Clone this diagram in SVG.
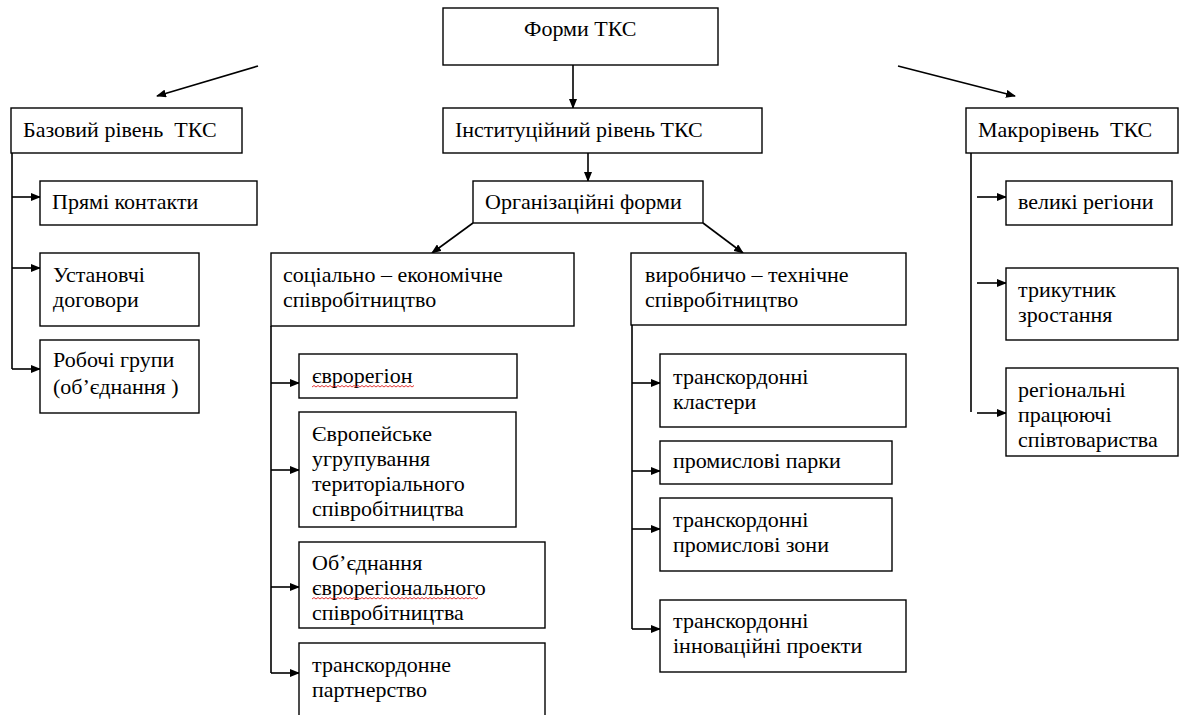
<svg xmlns="http://www.w3.org/2000/svg" width="1179" height="715" viewBox="0 0 1179 715">
<defs>
<marker id="ah" markerUnits="userSpaceOnUse" markerWidth="10" markerHeight="8" refX="9" refY="4" orient="auto">
<path d="M0,0 L10,4 L0,8 Z" fill="#000"/>
</marker>
</defs>
<rect width="1179" height="715" fill="#fff"/>

<g id="connectors" stroke="#000" stroke-width="1.6" fill="none">
<line marker-end="url(#ah)" x1="573" y1="65" x2="573" y2="108"/>
<line marker-end="url(#ah)" x1="588" y1="153" x2="588" y2="181"/>
<line marker-end="url(#ah)" x1="258" y1="66" x2="157" y2="96"/>
<line marker-end="url(#ah)" x1="898" y1="66" x2="1015" y2="96"/>
<line marker-end="url(#ah)" x1="473" y1="223" x2="432" y2="253"/>
<line marker-end="url(#ah)" x1="703" y1="223" x2="743" y2="253"/>
<polyline points="12,153 12,369"/>
<line marker-end="url(#ah)" x1="12" y1="197" x2="40" y2="197"/>
<line marker-end="url(#ah)" x1="12" y1="268" x2="40" y2="268"/>
<line marker-end="url(#ah)" x1="12" y1="369" x2="40" y2="369"/>
<polyline points="271,326 271,673"/>
<line marker-end="url(#ah)" x1="271" y1="383" x2="299" y2="383"/>
<line marker-end="url(#ah)" x1="271" y1="470" x2="299" y2="470"/>
<line marker-end="url(#ah)" x1="271" y1="587" x2="299" y2="587"/>
<line marker-end="url(#ah)" x1="271" y1="673" x2="299" y2="673"/>
<polyline points="632,325 632,629"/>
<line marker-end="url(#ah)" x1="632" y1="383" x2="660" y2="383"/>
<line marker-end="url(#ah)" x1="632" y1="471" x2="660" y2="471"/>
<line marker-end="url(#ah)" x1="632" y1="529" x2="660" y2="529"/>
<line marker-end="url(#ah)" x1="632" y1="629" x2="660" y2="629"/>
<polyline points="971,153 971,412"/>
<line marker-end="url(#ah)" x1="977" y1="197" x2="1006" y2="197"/>
<line marker-end="url(#ah)" x1="977" y1="283" x2="1006" y2="283"/>
<line marker-end="url(#ah)" x1="977" y1="413" x2="1006" y2="413"/>
</g>

<g id="nodes" font-size="22" fill="#000">
<g id="forms"><rect fill="#fff" stroke="#000" stroke-width="1.4" x="443" y="8" width="275" height="57"/><text font-family="Liberation Serif" x="524" y="36">Форми ТКС</text></g>
<g id="inst"><rect fill="#fff" stroke="#000" stroke-width="1.4" x="443" y="108" width="319" height="45"/><text font-family="Liberation Serif" x="455" y="137">Інституційний рівень ТКС</text></g>
<g id="org"><rect fill="#fff" stroke="#000" stroke-width="1.4" x="473" y="181" width="230" height="42"/><text font-family="Liberation Serif" x="485" y="209">Організаційні форми</text></g>
<g id="base"><rect fill="#fff" stroke="#000" stroke-width="1.4" x="11" y="108" width="231" height="45"/><text font-family="Liberation Serif" x="23" y="137" xml:space="preserve">Базовий рівень  ТКС</text></g>
<g id="direct"><rect fill="#fff" stroke="#000" stroke-width="1.4" x="40" y="181" width="217" height="44"/><text font-family="Liberation Serif" x="52" y="209">Прямі контакти</text></g>
<g id="founding"><rect fill="#fff" stroke="#000" stroke-width="1.4" x="40" y="253" width="159" height="73"/><text font-family="Liberation Serif" x="53" y="282">Установчі</text><text font-family="Liberation Serif" x="53" y="307">договори</text></g>
<g id="workgroups"><rect fill="#fff" stroke="#000" stroke-width="1.4" x="40" y="340" width="159" height="73"/><text font-family="Liberation Serif" x="53" y="367">Робочі групи</text><text font-family="Liberation Serif" x="53" y="394">(об’єднання )</text></g>
<g id="macro"><rect fill="#fff" stroke="#000" stroke-width="1.4" x="966" y="108" width="212" height="45"/><text font-family="Liberation Serif" x="978" y="137" xml:space="preserve">Макрорівень  ТКС</text></g>
<g id="bigregions"><rect fill="#fff" stroke="#000" stroke-width="1.4" x="1006" y="181" width="166" height="44"/><text font-family="Liberation Serif" x="1018" y="209">великі регіони</text></g>
<g id="triangle"><rect fill="#fff" stroke="#000" stroke-width="1.4" x="1006" y="268" width="172" height="72"/><text font-family="Liberation Serif" x="1018" y="297">трикутник</text><text font-family="Liberation Serif" x="1018" y="322">зростання</text></g>
<g id="regional"><rect fill="#fff" stroke="#000" stroke-width="1.4" x="1006" y="368" width="172" height="88"/><text font-family="Liberation Serif" x="1018" y="397">регіональні</text><text font-family="Liberation Serif" x="1018" y="422">працюючі</text><text font-family="Liberation Serif" x="1018" y="447">співтовариства</text></g>
<g id="social"><rect fill="#fff" stroke="#000" stroke-width="1.4" x="271" y="253" width="303" height="73"/><text font-family="Liberation Serif" x="283" y="282">соціально – економічне</text><text font-family="Liberation Serif" x="283" y="307">співробітництво</text></g>
<g id="euroregion"><rect fill="#fff" stroke="#000" stroke-width="1.4" x="299" y="354" width="218" height="44"/><text font-family="Liberation Serif" x="312" y="383">єврорегіон</text><path stroke="#e02020" stroke-width="0.9" fill="none" d="M312,387 l2,-1.5 l2,1.5 l2,-1.5 l2,1.5 l2,-1.5 l2,1.5 l2,-1.5 l2,1.5 l2,-1.5 l2,1.5 l2,-1.5 l2,1.5 l2,-1.5 l2,1.5 l2,-1.5 l2,1.5 l2,-1.5 l2,1.5 l2,-1.5 l2,1.5 l2,-1.5 l2,1.5 l2,-1.5 l2,1.5 l2,-1.5 l2,1.5 l2,-1.5 l2,1.5 l2,-1.5 l2,1.5 l2,-1.5 l2,1.5 l2,-1.5 l2,1.5 l2,-1.5 l2,1.5 l2,-1.5 l2,1.5 l2,-1.5 l2,1.5 l2,-1.5 l2,1.5 l2,-1.5 l2,1.5 l2,-1.5 l2,1.5 l2,-1.5 l2,1.5 l2,-1.5 l2,1.5 l2,-1.5"/></g>
<g id="egtc"><rect fill="#fff" stroke="#000" stroke-width="1.4" x="299" y="412" width="217" height="115"/><text font-family="Liberation Serif" x="312" y="441">Європейське</text><text font-family="Liberation Serif" x="312" y="466">угрупування</text><text font-family="Liberation Serif" x="312" y="491">територіального</text><text font-family="Liberation Serif" x="312" y="516">співробітництва</text></g>
<g id="association"><rect fill="#fff" stroke="#000" stroke-width="1.4" x="299" y="542" width="246" height="86"/><text font-family="Liberation Serif" x="312" y="570">Об’єднання</text><text font-family="Liberation Serif" x="312" y="595">єврорегіонального</text><text font-family="Liberation Serif" x="312" y="620">співробітництва</text><path stroke="#e02020" stroke-width="0.9" fill="none" d="M312,599 l2,-1.5 l2,1.5 l2,-1.5 l2,1.5 l2,-1.5 l2,1.5 l2,-1.5 l2,1.5 l2,-1.5 l2,1.5 l2,-1.5 l2,1.5 l2,-1.5 l2,1.5 l2,-1.5 l2,1.5 l2,-1.5 l2,1.5 l2,-1.5 l2,1.5 l2,-1.5 l2,1.5 l2,-1.5 l2,1.5 l2,-1.5 l2,1.5 l2,-1.5 l2,1.5 l2,-1.5 l2,1.5 l2,-1.5 l2,1.5 l2,-1.5 l2,1.5 l2,-1.5 l2,1.5 l2,-1.5 l2,1.5 l2,-1.5 l2,1.5 l2,-1.5 l2,1.5 l2,-1.5 l2,1.5 l2,-1.5 l2,1.5 l2,-1.5 l2,1.5 l2,-1.5 l2,1.5 l2,-1.5 l2,1.5 l2,-1.5 l2,1.5 l2,-1.5 l2,1.5 l2,-1.5 l2,1.5 l2,-1.5 l2,1.5 l2,-1.5 l2,1.5 l2,-1.5 l2,1.5 l2,-1.5 l2,1.5 l2,-1.5 l2,1.5 l2,-1.5 l2,1.5 l2,-1.5 l2,1.5 l2,-1.5 l2,1.5 l2,-1.5 l2,1.5 l2,-1.5 l2,1.5 l2,-1.5 l2,1.5 l2,-1.5 l2,1.5 l2,-1.5"/></g>
<g id="partnership"><rect fill="#fff" stroke="#000" stroke-width="1.4" x="299" y="643" width="246" height="80"/><text font-family="Liberation Serif" x="312" y="672">транскордонне</text><text font-family="Liberation Serif" x="312" y="697">партнерство</text></g>
<g id="production"><rect fill="#fff" stroke="#000" stroke-width="1.4" x="631" y="253" width="275" height="72"/><text font-family="Liberation Serif" x="645" y="282">виробничо – технічне</text><text font-family="Liberation Serif" x="645" y="307">співробітництво</text></g>
<g id="clusters"><rect fill="#fff" stroke="#000" stroke-width="1.4" x="660" y="354" width="246" height="73"/><text font-family="Liberation Serif" x="673" y="384">транскордонні</text><text font-family="Liberation Serif" x="673" y="409">кластери</text></g>
<g id="parks"><rect fill="#fff" stroke="#000" stroke-width="1.4" x="660" y="441" width="232" height="43"/><text font-family="Liberation Serif" x="673" y="468">промислові парки</text></g>
<g id="zones"><rect fill="#fff" stroke="#000" stroke-width="1.4" x="660" y="498" width="232" height="73"/><text font-family="Liberation Serif" x="673" y="527">транскордонні</text><text font-family="Liberation Serif" x="673" y="552">промислові зони</text></g>
<g id="innovation"><rect fill="#fff" stroke="#000" stroke-width="1.4" x="660" y="600" width="246" height="72"/><text font-family="Liberation Serif" x="673" y="628">транскордонні</text><text font-family="Liberation Serif" x="673" y="653">інноваційні проекти</text></g>
</g>
</svg>
